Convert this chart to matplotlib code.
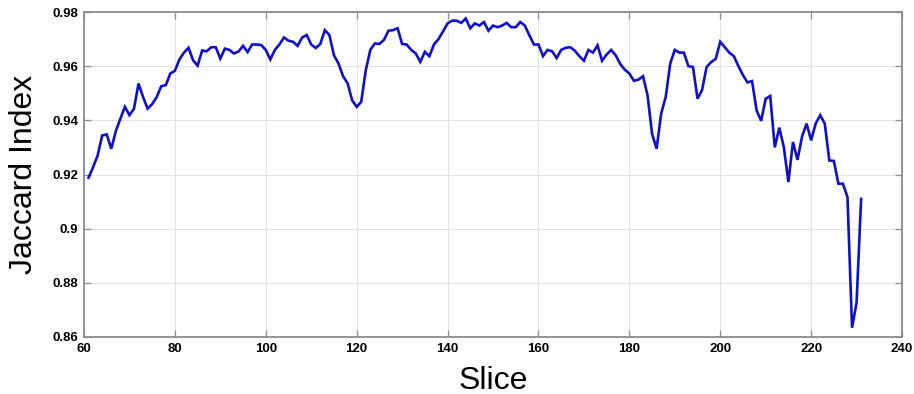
import matplotlib
matplotlib.use("Agg")
import matplotlib.pyplot as plt
import numpy as np

slices = list(range(61, 232))
jaccard = [
    0.9188, 0.9227, 0.9270, 0.9344, 0.9348, 0.9295, 0.9360, 0.9406, 0.9450, 0.9419,  # 61-70
    0.9443, 0.9536, 0.9486, 0.9443, 0.9460, 0.9486, 0.9526, 0.9530, 0.9573, 0.9583,  # 71-80
    0.9625, 0.9650, 0.9668, 0.9622, 0.9602, 0.9658, 0.9655, 0.9670, 0.9670, 0.9628,  # 81-90
    0.9665, 0.9660, 0.9647, 0.9654, 0.9675, 0.9652, 0.9680, 0.9680, 0.9678, 0.9660,  # 91-100
    0.9625, 0.9660, 0.9680, 0.9706, 0.9694, 0.9690, 0.9675, 0.9706, 0.9715, 0.9680,  # 101-110
    0.9667, 0.9682, 0.9733, 0.9715, 0.9640, 0.9610, 0.9563, 0.9537, 0.9474, 0.9450,  # 111-120
    0.9468, 0.9585, 0.9660, 0.9684, 0.9682, 0.9697, 0.9731, 0.9733, 0.9740, 0.9682,  # 121-130
    0.9680, 0.9660, 0.9647, 0.9616, 0.9653, 0.9637, 0.9680, 0.9700, 0.9728, 0.9758,  # 131-140
    0.9768, 0.9768, 0.9760, 0.9776, 0.9740, 0.9758, 0.9750, 0.9763, 0.9731, 0.9750,  # 141-150
    0.9744, 0.9750, 0.9760, 0.9744, 0.9744, 0.9763, 0.9750, 0.9714, 0.9680, 0.9680,  # 151-160
    0.9637, 0.9660, 0.9655, 0.9630, 0.9660, 0.9668, 0.9670, 0.9657, 0.9637, 0.9620,  # 161-170
    0.9660, 0.9650, 0.9677, 0.9620, 0.9643, 0.9660, 0.9640, 0.9608, 0.9587, 0.9573,  # 171-180
    0.9546, 0.9550, 0.9563, 0.9493, 0.9350, 0.9295, 0.9425, 0.9486, 0.9610, 0.9660,  # 181-190
    0.9650, 0.9650, 0.9600, 0.9597, 0.9480, 0.9512, 0.9597, 0.9615, 0.9627, 0.9690,  # 191-200
    0.9670, 0.9650, 0.9637, 0.9600, 0.9567, 0.9540, 0.9545, 0.9437, 0.9398, 0.9480,  # 201-210
    0.9490, 0.9300, 0.9373, 0.9300, 0.9172, 0.9320, 0.9254, 0.9340, 0.9388, 0.9326,  # 211-220
    0.9388, 0.9419, 0.9388, 0.9252, 0.9250, 0.9166, 0.9166, 0.9116, 0.8634, 0.8727,  # 221-230
    0.9110,                                                                          # 231
]

x_ticks = [60, 80, 100, 120, 140, 160, 180, 200, 220, 240]
y_ticks = [0.86, 0.88, 0.90, 0.92, 0.94, 0.96, 0.98]
y_tick_labels = ["0.86", "0.88", "0.9", "0.92", "0.94", "0.96", "0.98"]

plt.rcParams['font.family'] = ['Liberation Sans', 'DejaVu Sans']

fig = plt.figure(figsize=(9.14, 3.94), dpi=100)
ax = fig.add_axes([0.0919, 0.1447, 0.8950, 0.8248])

ax.plot(slices, jaccard, color='#1010CC', linewidth=1.9, solid_joinstyle='miter', zorder=3)

ax.set_xlim(60, 240)
ax.set_ylim(0.86, 0.98)
ax.set_xticks(x_ticks)
ax.set_yticks(y_ticks)
ax.set_yticklabels(y_tick_labels)

ax.grid(True, color='#e3e3e3', linewidth=0.8, zorder=0)
for sp in ax.spines.values():
    sp.set_color('#8c8c8c')
    sp.set_linewidth(1.3)

ax.tick_params(axis='both', which='both', direction='in', length=5, width=0.9,
               color='#8c8c8c', top=True, right=True, labelsize=9.5, pad=4)
for lbl in ax.get_xticklabels() + ax.get_yticklabels():
    lbl.set_fontweight('bold')

ax.set_xlabel('Slice', fontsize=23, labelpad=8)
ax.set_ylabel('Jaccard Index', fontsize=23, labelpad=10)

fig.savefig('out.png', dpi=100, facecolor='white')
